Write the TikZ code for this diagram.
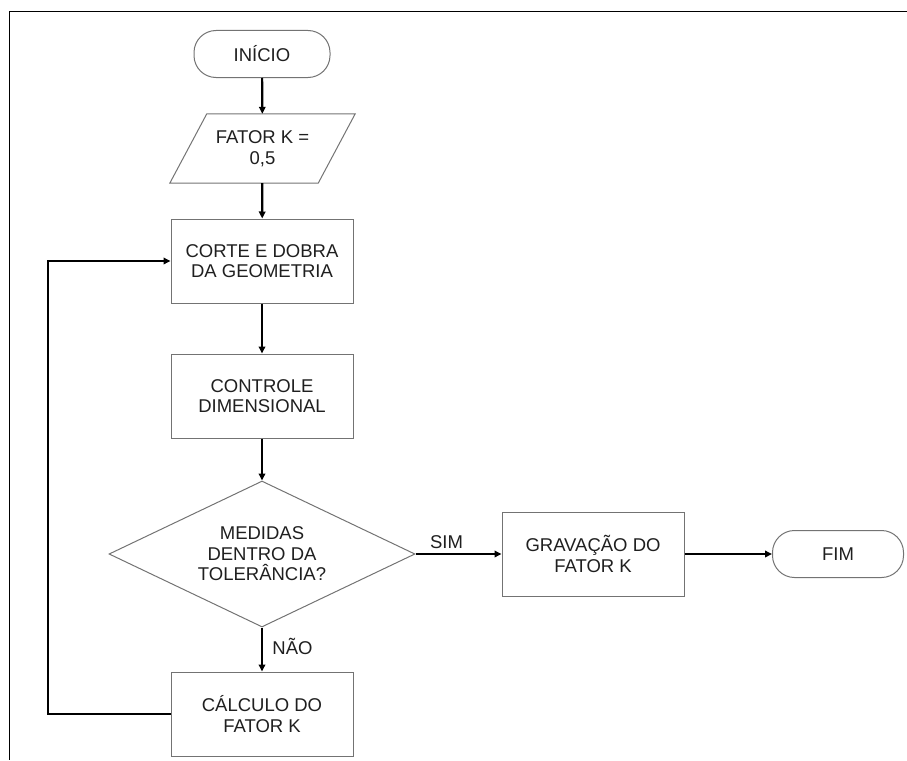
\documentclass[tikz,border=0pt]{standalone}
\usepackage{fontspec}
\setmainfont{Liberation Sans}
\usetikzlibrary{shapes.geometric,arrows.meta}

\tikzset{
  every node/.style={text=black!88,font=\fontsize{18.5}{20.5}\selectfont,align=center},
  edge line/.style={draw=black!55,line width=1pt},
  procbox/.style={edge line,minimum width=182pt,minimum height=84pt},
  termbox/.style={edge line,rounded corners=22pt,minimum height=47pt},
  iobox/.style={minimum width=148pt,minimum height=69pt,inner sep=0pt},
  testbox/.style={diamond,edge line,aspect=2.1,minimum width=306pt,minimum height=146pt,inner sep=0pt},
  flow/.style={line width=2.2pt,-{Triangle[length=7pt,width=6.5pt]}},
  lbl/.style={text=black!88}
}

\begin{document}
\begin{tikzpicture}[x=1pt,y=-1pt]
\useasboundingbox (0,0) rectangle (907,760);
\draw[line width=1pt] (907,12) -- (9,12) -- (9,760);

\node[termbox,minimum width=136pt] (inicio) at (262,54) {INÍCIO};
\node[iobox] (fator) at (262.5,148.5) {FATOR K =\\0,5};
\draw[edge line] ([xshift=18.5pt]fator.north west) -- ([xshift=18.5pt]fator.north east)
  -- ([xshift=-18.5pt]fator.south east) -- ([xshift=-18.5pt]fator.south west) -- cycle;
\node[procbox] (corte) at (262,261) {CORTE E DOBRA\\DA GEOMETRIA};
\node[procbox] (controle) at (262,396) {CONTROLE\\DIMENSIONAL};
\node[testbox] (teste) at (262,554) {MEDIDAS\\DENTRO DA\\TOLERÂNCIA?};
\node[procbox] (calculo) at (262,714) {CÁLCULO DO\\FATOR K};
\node[procbox] (grava) at (593,554) {GRAVAÇÃO DO\\FATOR K};
\node[termbox,minimum width=131pt] (fim) at (838,554) {FIM};
\coordinate (volta) at (48,0);

\draw[flow] (inicio) -- (fator);
\draw[flow] (fator) -- (corte);
\draw[flow] (corte) -- (controle);
\draw[flow] (controle) -- (teste);
\draw[flow] (teste.south) -- node[lbl,right=6pt,pos=0.42]{NÃO} (calculo.north);
\draw[flow] (teste.east) -- node[lbl,above=1pt,pos=0.36]{SIM} (grava.west);
\draw[flow] (grava) -- (fim);
\draw[flow] (calculo.west) -- (calculo.west -| volta) |- (corte.west);
\end{tikzpicture}
\end{document}
